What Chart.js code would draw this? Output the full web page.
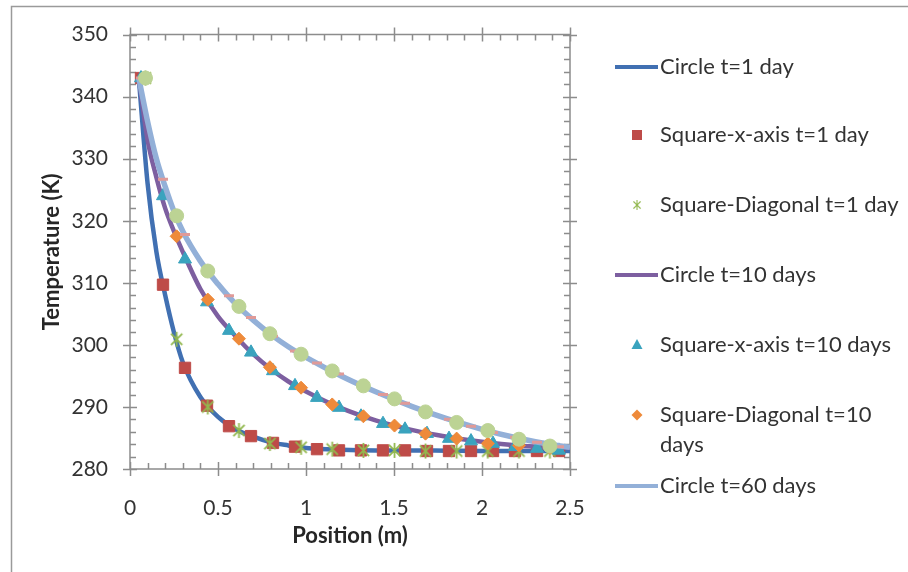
<!DOCTYPE html>
<html>
<head>
<meta charset="utf-8">
<script src="https://cdn.jsdelivr.net/npm/chart.js@4.4.1/dist/chart.umd.min.js"></script>
<style>
  html, body { margin: 0; padding: 0; background: #ffffff; }
  #wrap { position: relative; width: 908px; height: 572px; }
  canvas { display: block; }
</style>
</head>
<body>
<div id="wrap"><canvas id="c" width="908" height="572"></canvas></div>
<script>
// Radial positions used for the circle solution (m)
const circleR = [0.05, 0.1, 0.15, 0.2, 0.25, 0.3, 0.4, 0.5, 0.6, 0.7, 0.8, 0.9, 1.0, 1.2, 1.4, 1.6, 1.8, 2.0, 2.2, 2.4, 2.5];
// Cell centres along the square's x-axis (m)
const xAxisCells = [0.0625, 0.1875, 0.3125, 0.4375, 0.5625, 0.6875, 0.8125, 0.9375, 1.0625, 1.1875,
                    1.3125, 1.4375, 1.5625, 1.6875, 1.8125, 1.9375, 2.0625, 2.1875, 2.3125, 2.4375];
// Cell centres along the square's diagonal (m)
const diagCells = [0.088, 0.265, 0.442, 0.619, 0.795, 0.972, 1.149, 1.326, 1.503, 1.679, 1.856, 2.033, 2.21, 2.386];

// Temperatures (K)
const circleDay1 = [343, 326, 315, 308, 302, 297.2, 291.6, 288.4, 286.4, 285.2, 284.3, 283.8, 283.4, 283.1, 283.0, 283.0, 282.95, 282.9, 282.9, 282.9, 282.9];
const squareXDay1 = [343, 309.7, 296.3, 290.2, 286.9, 285.3, 284.2, 283.6, 283.2, 283.0, 283.0, 283.0, 283.0, 282.9, 282.9, 282.9, 282.9, 282.9, 282.9, 282.9];
const squareDiagDay1 = [343, 300.9, 290.0, 286.2, 284.1, 283.5, 283.2, 283.0, 283.0, 282.9, 282.9, 282.9, 282.9, 282.9];

const circleDay10 = [343, 333, 327, 322, 318.3, 315, 309.0, 304.6, 301.4, 298.5, 296.1, 294.1, 292.5, 289.8, 287.8, 286.3, 285.2, 284.4, 283.8, 283.5, 283.4];
const squareXDay10 = [343, 324.0, 313.8, 306.9, 302.3, 298.8, 295.8, 293.4, 291.5, 289.9, 288.5, 287.3, 286.4, 285.7, 284.9, 284.5, 284.1, 283.6, 283.3, 283.0];
const squareDiagDay10 = [343, 317.5, 307.3, 301.0, 296.4, 293.1, 290.4, 288.5, 287.0, 285.7, 284.9, 284.1, 283.8, 283.4];

const circleDay60 = [343, 336, 330, 325.5, 321.5, 318.3, 313.5, 309.8, 306.6, 304, 301.7, 299.7, 298, 295, 292.4, 290.1, 288.1, 286.4, 285.0, 283.9, 283.5];
const squareXDay60 = [343, 326.7, 317.8, 312.3, 307.9, 304.4, 301.4, 299.0, 297.1, 295.3, 293.6, 292.0, 290.6, 289.2, 288.0, 286.9, 285.9, 285.1, 284.3, 283.6];
const squareDiagDay60 = [343, 320.8, 311.9, 306.2, 301.8, 298.5, 295.8, 293.4, 291.3, 289.2, 287.5, 286.2, 284.8, 283.7];

// Axis ranges and tick steps
const xRange = [0, 2.5], xStep = 0.5, xMinorStep = 0.1;
const yRange = [280, 350], yStep = 10, yMinorStep = 2;

const FONT = 'Lato, "Open Sans", "Liberation Sans", sans-serif';
const AXIS = '#8c8c8c';
const TEXT = '#333333';

const pts = (xs, ys) => xs.map((x, i) => ({ x: x, y: ys[i] }));

// Six-armed asterisk marker
function starMarker(size, color, lw) {
  const c = document.createElement('canvas');
  c.width = size; c.height = size;
  const g = c.getContext('2d');
  const m = size / 2, r = size / 2 - 1;
  g.strokeStyle = color; g.lineWidth = lw; g.lineCap = 'butt';
  g.beginPath();
  g.moveTo(m - r * 0.75, m - r * 0.75); g.lineTo(m + r * 0.75, m + r * 0.75);
  g.moveTo(m + r * 0.75, m - r * 0.75); g.lineTo(m - r * 0.75, m + r * 0.75);
  g.moveTo(m, m - r); g.lineTo(m, m + r);
  g.stroke();
  return c;
}

const C = {
  c1: '#4170b2', sq1: '#be4b48', sd1: '#92b84e',
  c10: '#7d5fa0', sq10: '#3aa3be', sd10: '#ee8a3a',
  c60: '#93b0d8', sq60: '#e09a98', sd60: '#bcd394'
};

function lineSet(label, data, color, width) {
  return { label, data, showLine: true, borderColor: color, backgroundColor: color,
           borderWidth: width, pointRadius: 0, pointHoverRadius: 0,
           cubicInterpolationMode: 'monotone', fill: false };
}
function markSet(label, data, color, style, radius, extra) {
  return Object.assign({ label, data, showLine: false, pointStyle: style, pointRadius: radius,
           pointHoverRadius: radius, backgroundColor: color, borderColor: color, borderWidth: 1 }, extra || {});
}

const datasets = [
  lineSet('Circle t=1 day', pts(circleR, circleDay1), C.c1, 4.5),
  markSet('Square-x-axis t=1 day', pts(xAxisCells, squareXDay1), C.sq1, 'rect', 8),
  markSet('Square-Diagonal t=1 day', pts(diagCells, squareDiagDay1), C.sd1, starMarker(17, C.sd1, 1.8), 8),
  lineSet('Circle t=10 days', pts(circleR, circleDay10), C.c10, 4.5),
  markSet('Square-x-axis t=10 days', pts(xAxisCells, squareXDay10), C.sq10, 'triangle', 7.5),
  markSet('Square-Diagonal t=10 days', pts(diagCells, squareDiagDay10), C.sd10, 'rectRot', 6.5),
  lineSet('Circle t=60 days', pts(circleR, circleDay60), C.c60, 5.5),
  markSet('Square-x-axis t=60 days', pts(xAxisCells, squareXDay60), C.sq60, 'line', 5, { borderWidth: 3 }),
  markSet('Square-Diagonal t=60 days', pts(diagCells, squareDiagDay60), C.sd60, 'circle', 7)
];
// later series are painted over earlier ones
datasets.forEach((d, i) => { d.order = datasets.length - i; });

// Legend rows: [dataset index, text lines, centre y]
const legendRows = [
  [0, ['Circle t=1 day'], 67],
  [1, ['Square-x-axis t=1 day'], 135],
  [2, ['Square-Diagonal t=1 day'], 205],
  [3, ['Circle t=10 days'], 275],
  [4, ['Square-x-axis t=10 days'], 345],
  [5, ['Square-Diagonal t=10', 'days'], 415],
  [6, ['Circle t=60 days'], 486]
];

const framePlugin = {
  id: 'frame',
  beforeDraw(chart) {
    const ctx = chart.ctx;
    ctx.save();
    ctx.fillStyle = '#ffffff';
    ctx.fillRect(0, 0, chart.width, chart.height);
    ctx.strokeStyle = '#9a9a9a';
    ctx.lineWidth = 1.5;
    ctx.beginPath();
    ctx.moveTo(11.5, chart.height + 2);
    ctx.lineTo(11.5, 6.5);
    ctx.lineTo(chart.width + 2, 6.5);
    ctx.stroke();
    ctx.restore();
  }
};

const tickPlugin = {
  id: 'boxTicks',
  beforeDatasetsDraw(chart) {
    const ctx = chart.ctx;
    const { left, right, top, bottom } = chart.chartArea;
    const xs = chart.scales.x, ys = chart.scales.y;
    ctx.save();
    ctx.strokeStyle = AXIS;
    ctx.lineWidth = 1.5;
    ctx.beginPath();
    ctx.moveTo(left, top); ctx.lineTo(right, top); ctx.lineTo(right, bottom);
    ctx.lineTo(left, bottom); ctx.closePath();
    const nx = Math.round((xRange[1] - xRange[0]) / xMinorStep);
    for (let i = 0; i <= nx; i++) {
      const v = xRange[0] + i * xMinorStep;
      const px = Math.round(xs.getPixelForValue(v)) + 0.5;
      const major = i % Math.round(xStep / xMinorStep) === 0;
      if (major) {
        ctx.moveTo(px, bottom - 7); ctx.lineTo(px, bottom + 7);
        ctx.moveTo(px, top - 7); ctx.lineTo(px, top + 7);
      } else {
        ctx.moveTo(px, bottom - 6); ctx.lineTo(px, bottom);
        ctx.moveTo(px, top); ctx.lineTo(px, top + 6);
      }
    }
    const ny = Math.round((yRange[1] - yRange[0]) / yMinorStep);
    for (let i = 0; i <= ny; i++) {
      const v = yRange[0] + i * yMinorStep;
      const py = Math.round(ys.getPixelForValue(v)) + 0.5;
      const major = i % Math.round(yStep / yMinorStep) === 0;
      if (major) {
        ctx.moveTo(left - 7, py); ctx.lineTo(left + 7, py);
        ctx.moveTo(right - 7, py); ctx.lineTo(right + 7, py);
      } else {
        ctx.moveTo(left, py); ctx.lineTo(left + 6, py);
        ctx.moveTo(right - 6, py); ctx.lineTo(right, py);
      }
    }
    ctx.stroke();
    ctx.restore();
  }
};

function drawLegendMarker(ctx, ds, x, y) {
  const col = ds.backgroundColor;
  ctx.fillStyle = col; ctx.strokeStyle = col;
  ctx.beginPath();
  const s = ds.pointStyle;
  if (ds.showLine) {
    ctx.lineWidth = 4;
    ctx.moveTo(615, y); ctx.lineTo(658, y); ctx.stroke();
  } else if (s === 'rect') {
    ctx.fillRect(x - 5, y - 5, 10, 10);
  } else if (s === 'triangle') {
    ctx.moveTo(x, y - 6); ctx.lineTo(x + 5.5, y + 4); ctx.lineTo(x - 5.5, y + 4); ctx.closePath(); ctx.fill();
  } else if (s === 'rectRot') {
    ctx.moveTo(x, y - 5.5); ctx.lineTo(x + 5.5, y); ctx.lineTo(x, y + 5.5); ctx.lineTo(x - 5.5, y); ctx.closePath(); ctx.fill();
  } else if (s instanceof HTMLCanvasElement) {
    ctx.drawImage(s, x - 5.5, y - 5.5, 11, 11);
  }
}

const legendPlugin = {
  id: 'sideLegend',
  afterDraw(chart) {
    const ctx = chart.ctx;
    ctx.save();
    ctx.font = '22px ' + FONT;
    ctx.textBaseline = 'middle';
    ctx.textAlign = 'left';
    legendRows.forEach(([idx, lines, y]) => {
      const ds = chart.data.datasets[idx];
      drawLegendMarker(ctx, ds, 637, y);
      ctx.fillStyle = TEXT;
      lines.forEach((t, k) => ctx.fillText(t, 660, y + k * 30));
    });
    ctx.restore();
  }
};

new Chart(document.getElementById('c'), {
  type: 'scatter',
  data: { datasets },
  plugins: [framePlugin, tickPlugin, legendPlugin],
  options: {
    responsive: false,
    animation: false,
    devicePixelRatio: 1,
    layout: { padding: { left: 10, top: 30, right: 338, bottom: 0 } },
    plugins: { legend: { display: false }, tooltip: { enabled: false } },
    scales: {
      x: {
        type: 'linear', min: xRange[0], max: xRange[1],
        afterFit(s) { s.height = 103; },
        grid: { display: false, drawTicks: false },
        border: { display: false },
        ticks: { stepSize: xStep, padding: 27, color: TEXT, font: { family: FONT, size: 21 },
                 callback: (v) => String(Number(v.toFixed(2))) },
        title: { display: true, text: 'Position (m)', color: '#262626',
                 font: { family: FONT, size: 22, weight: 'bold' }, padding: { top: 0, bottom: 23 } }
      },
      y: {
        type: 'linear', min: yRange[0], max: yRange[1],
        afterFit(s) { s.width = 120; },
        grid: { display: false, drawTicks: false },
        border: { display: false },
        ticks: { stepSize: yStep, padding: 22, color: TEXT, font: { family: FONT, size: 21 } },
        title: { display: true, text: 'Temperature (K)', color: '#262626',
                 font: { family: FONT, size: 22, weight: 'bold' }, padding: { top: 29, bottom: 0 } }
      }
    }
  }
});
</script>
</body>
</html>
